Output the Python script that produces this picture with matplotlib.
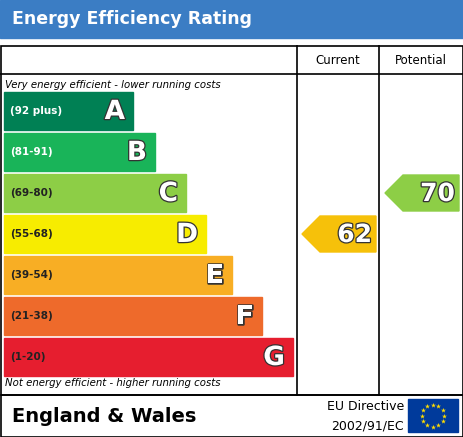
import matplotlib.pyplot as plt
import matplotlib.patches as mpatches
import matplotlib.patheffects as pe
import numpy as np

bands = ['A', 'B', 'C', 'D', 'E', 'F', 'G']
ranges = ['(92 plus)', '(81-91)', '(69-80)', '(55-68)', '(39-54)', '(21-38)', '(1-20)']
band_colors = ['#008054', '#19b459', '#8dce46', '#f7ec00', '#f8ae24', '#ee6a2b', '#e61e2f']
arrow_colors = ['#008054', '#19b459', '#8dce46', '#f6c10a', '#f8ae24', '#ee6a2b', '#e61e2f']
band_ends = [133, 155, 186, 206, 232, 262, 293]
current = 62
potential = 70
current_band = 'D'
potential_band = 'C'

fig = plt.figure(figsize=(4.64, 4.37), dpi=100)
ax = fig.add_axes([0, 0, 1, 1])
ax.set_xlim(0, 464)
ax.set_ylim(437, 0)
ax.axis('off')

# title bar
ax.add_patch(mpatches.Rectangle((0, 0), 464, 38, color='#3b7dc4'))
ax.text(12, 19, 'Energy Efficiency Rating', color='white', fontsize=12.5,
        fontweight='bold', va='center')

# frame and grid lines
lw = 1.2
ax.add_patch(mpatches.Rectangle((0.5, 46), 463, 349, fill=False, ec='black', lw=lw))
ax.add_patch(mpatches.Rectangle((0.5, 395), 463, 41.5, fill=False, ec='black', lw=lw))
ax.plot([297, 297], [46, 395], color='black', lw=lw)
ax.plot([379, 379], [46, 395], color='black', lw=lw)
ax.plot([0, 464], [74, 74], color='black', lw=lw)
ax.text(338, 61, 'Current', ha='center', va='center', fontsize=8.5)
ax.text(421, 61, 'Potential', ha='center', va='center', fontsize=8.5)

ax.text(5, 85, 'Very energy efficient - lower running costs', fontsize=7.3,
        style='italic', va='center')
ax.text(5, 383, 'Not energy efficient - higher running costs', fontsize=7.3,
        style='italic', va='center')

outline = [pe.withStroke(linewidth=1.8, foreground='#333333')]
row_top = {}
for i, (b, r, c, xe) in enumerate(zip(bands, ranges, band_colors, band_ends)):
    y0 = 92 + i * 41
    row_top[b] = y0
    ax.add_patch(mpatches.Rectangle((4, y0), xe - 4, 38, color=c))
    ax.text(10, y0 + 19, r, fontsize=7.5, fontweight='bold', va='center',
            color='white' if b in 'AB' else '#222222')
    ax.text(xe - 8, y0 + 20, b, fontsize=19, fontweight='bold', color='white',
            ha='right', va='center', path_effects=outline)


def arrow(x0, x1, y0, value, color):
    h = 36
    pts = [(x0, y0 + h / 2), (x0 + 18, y0), (x1, y0), (x1, y0 + h), (x0 + 18, y0 + h)]
    ax.add_patch(mpatches.Polygon(pts, closed=True, color=color))
    ax.text(x1 - 4, y0 + h / 2 + 1, str(value), fontsize=18, fontweight='bold',
            color='white', ha='right', va='center', path_effects=outline)


arrow(302, 376, row_top[current_band] + 1, current, arrow_colors[bands.index(current_band)])
arrow(385, 459, row_top[potential_band] + 1, potential, arrow_colors[bands.index(potential_band)])

# footer
ax.text(12, 416, 'England & Wales', fontsize=14, fontweight='bold', va='center')
ax.text(404, 407, 'EU Directive', fontsize=9, ha='right', va='center')
ax.text(404, 426, '2002/91/EC', fontsize=9, ha='right', va='center')
ax.add_patch(mpatches.Rectangle((408, 399), 50, 33, color='#003a9b'))
ang = np.linspace(0, 2 * np.pi, 12, endpoint=False)
ax.scatter(433 + 11 * np.cos(ang), 415.5 + 11 * np.sin(ang), marker='*', s=14,
           color='#ffdd00', lw=0)

fig.savefig('out.png', dpi=100)
